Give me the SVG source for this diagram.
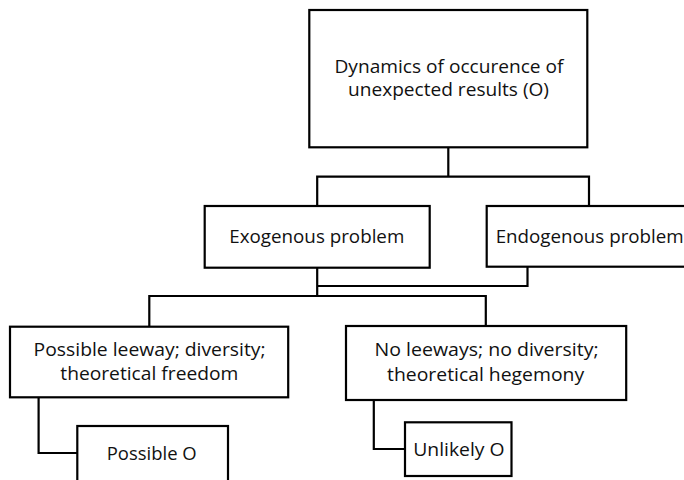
<svg xmlns="http://www.w3.org/2000/svg" width="684" height="480" viewBox="0 0 684 480">
<style>
.box{fill:#fff;stroke:#000;stroke-width:2.2}
.lbl{font-family:"Open Sans","Noto Sans","Liberation Sans",sans-serif;font-size:18px;fill:#111;text-anchor:middle}
.con{fill:none;stroke:#000;stroke-width:2.2;stroke-linejoin:miter}
</style>
<rect width="684" height="480" fill="#fff"/>
<g id="connectors">
<path class="con" d="M448.3,147.3 V176.7 M317.2,206 V176.7 H589 V206"/>
<path class="con" d="M317.2,267.7 V296 M527.5,266.7 V286 H317.2"/>
<path class="con" d="M149.3,326.7 V296 H485.8 V326"/>
<path class="con" d="M38.6,397.3 V453 H77.3"/>
<path class="con" d="M373.8,400 V449 H405"/>
</g>
<g id="root">
<rect class="box" x="309.3" y="10" width="278" height="137.3"/>
<text class="lbl" x="449" y="72.7" textLength="229" lengthAdjust="spacingAndGlyphs">Dynamics of occurence of</text>
<text class="lbl" x="448.5" y="96" textLength="201" lengthAdjust="spacingAndGlyphs">unexpected results (O)</text>
</g>
<g id="exogenous">
<rect class="box" x="204.7" y="206" width="225" height="61.7"/>
<text class="lbl" x="316.8" y="242.7" textLength="175" lengthAdjust="spacingAndGlyphs">Exogenous problem</text>
</g>
<g id="endogenous">
<rect class="box" x="486.7" y="206" width="210" height="60.7"/>
<text class="lbl" x="589.7" y="242.7" textLength="188" lengthAdjust="spacingAndGlyphs">Endogenous problem</text>
</g>
<g id="freedom">
<rect class="box" x="10" y="326.7" width="278.2" height="70.6"/>
<text class="lbl" x="149.6" y="356" textLength="232" lengthAdjust="spacingAndGlyphs">Possible leeway; diversity;</text>
<text class="lbl" x="149.3" y="380.3" textLength="178" lengthAdjust="spacingAndGlyphs">theoretical freedom</text>
</g>
<g id="hegemony">
<rect class="box" x="346" y="326" width="280.2" height="74"/>
<text class="lbl" x="486.6" y="356" textLength="224" lengthAdjust="spacingAndGlyphs">No leeways; no diversity;</text>
<text class="lbl" x="485.6" y="381" textLength="197" lengthAdjust="spacingAndGlyphs">theoretical hegemony</text>
</g>
<g id="possible">
<rect class="box" x="77.3" y="426" width="150.7" height="56"/>
<text class="lbl" x="151.7" y="460" textLength="90" lengthAdjust="spacingAndGlyphs">Possible O</text>
</g>
<g id="unlikely">
<rect class="box" x="405" y="422.3" width="106.5" height="53.7"/>
<text class="lbl" x="458.9" y="456.3" textLength="91.4" lengthAdjust="spacingAndGlyphs">Unlikely O</text>
</g>
</svg>
